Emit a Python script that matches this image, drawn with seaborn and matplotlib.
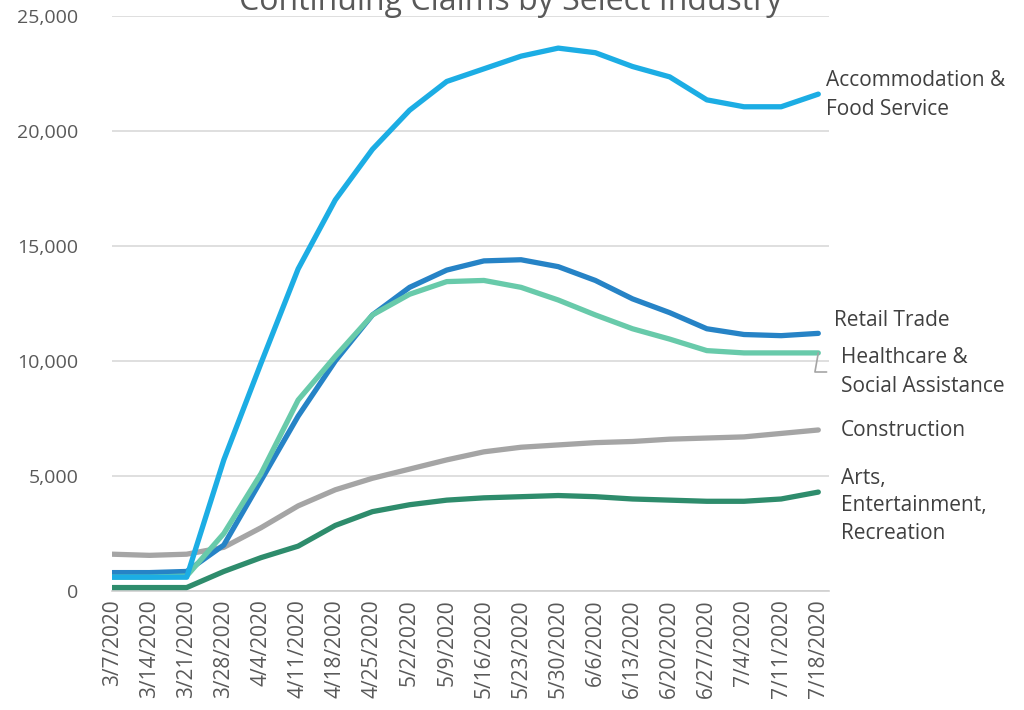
import pandas as pd
import numpy as np
import seaborn as sns
import matplotlib.pyplot as plt

# weekly dates
weeks = ['3/7/2020', '3/14/2020', '3/21/2020', '3/28/2020', '4/4/2020', '4/11/2020',
         '4/18/2020', '4/25/2020', '5/2/2020', '5/9/2020', '5/16/2020', '5/23/2020',
         '5/30/2020', '6/6/2020', '6/13/2020', '6/20/2020', '6/27/2020', '7/4/2020',
         '7/11/2020', '7/18/2020']

construction = [1600, 1550, 1600, 1900, 2750, 3700, 4400, 4900, 5300, 5700,
                6050, 6250, 6350, 6450, 6500, 6600, 6650, 6700, 6850, 7000]
arts = [150, 150, 150, 850, 1450, 1950, 2850, 3450, 3750, 3950,
        4050, 4100, 4150, 4100, 4000, 3950, 3900, 3900, 4000, 4300]
retail = [800, 800, 850, 2000, 4800, 7600, 10000, 12000, 13200, 13950,
          14350, 14400, 14100, 13500, 12700, 12100, 11400, 11150, 11100, 11200]
healthcare = [600, 600, 650, 2500, 5100, 8300, 10200, 12000, 12900, 13450,
              13500, 13200, 12650, 12000, 11400, 10950, 10450, 10350, 10350, 10350]
accommodation = [600, 600, 600, 5700, 9900, 14000, 17000, 19200, 20900, 22150,
                 22700, 23250, 23600, 23400, 22800, 22350, 21350, 21050, 21050, 21600]

series = {
    'Construction': construction,
    'Arts, Entertainment, Recreation': arts,
    'Retail Trade': retail,
    'Healthcare & Social Assistance': healthcare,
    'Accommodation & Food Service': accommodation,
}
colors = {
    'Construction': '#A5A5A5',
    'Arts, Entertainment, Recreation': '#2E8C6C',
    'Retail Trade': '#2683C6',
    'Healthcare & Social Assistance': '#68CAAA',
    'Accommodation & Food Service': '#1CADE4',
}

rows = []
for name, vals in series.items():
    for i, v in enumerate(vals):
        rows.append({'idx': i, 'week': weeks[i], 'industry': name, 'claims': v})
df = pd.DataFrame(rows)

sns.set_style('white')
plt.rcParams['font.family'] = ['Open Sans', 'DejaVu Sans']

fig = plt.figure(figsize=(10.24, 7.1), dpi=100)
ax = fig.add_axes([0.109, 0.1676, 0.701, 0.81])

sns.lineplot(data=df, x='idx', y='claims', hue='industry', palette=colors,
             hue_order=list(series.keys()), linewidth=3.8, legend=False, ax=ax,
             solid_capstyle='round', zorder=3)

ax.set_xlim(-0.02, 19.3)
ax.set_ylim(0, 25000)
ax.set_yticks(np.arange(0, 25001, 5000))
ax.set_yticklabels([f'{int(v):,}' for v in np.arange(0, 25001, 5000)])
ax.set_xticks(range(len(weeks)))
ax.set_xticklabels(weeks, rotation=90)
ax.tick_params(axis='y', labelsize=14, labelcolor='#595959', length=0, pad=24, left=False)
ax.tick_params(axis='x', labelsize=15, labelcolor='#595959', length=0, pad=6)
ax.set_xlabel('')
ax.set_ylabel('')
ax.xaxis.grid(False)
ax.yaxis.grid(True, color='#D9D9D9', linewidth=1.2, zorder=0)
sns.despine(ax=ax, left=True)
ax.spines['left'].set_color('none')
ax.spines['bottom'].set_color('#D0D0D0')
ax.spines['bottom'].set_linewidth(1.2)

# series labels on the right
lab_kw = dict(fontsize=15, color='#404040', va='center', ha='left',
              linespacing=1.5, annotation_clip=False)
last = len(weeks) - 1
ax.annotate('Accommodation &\nFood Service', xy=(last, accommodation[-1]),
            xytext=(826, 615), textcoords='figure pixels', **lab_kw)
ax.annotate('Retail Trade', xy=(last, retail[-1]),
            xytext=(834, 390), textcoords='figure pixels', **lab_kw)
ax.annotate('Healthcare &\nSocial Assistance', xy=(last, healthcare[-1]),
            xytext=(841, 338), textcoords='figure pixels',
            arrowprops=dict(arrowstyle='-', color='#A5A5A5', lw=1.2,
                            connectionstyle='angle,angleA=0,angleB=80',
                            shrinkA=8, shrinkB=0),
            **lab_kw)
ax.annotate('Construction', xy=(last, construction[-1]),
            xytext=(841, 279), textcoords='figure pixels', **lab_kw)
ax.annotate('Arts,\nEntertainment,\nRecreation', xy=(last, arts[-1]),
            xytext=(841, 204), textcoords='figure pixels',
            **dict(lab_kw, linespacing=1.4))

# title sits partly above the top edge, as in the source chart
fig.text(0.499, 1 - 10 / 710, 'Continuing Claims by Select Industry',
         ha='center', va='baseline', fontsize=23, color='#595959')

fig.savefig('out.png', dpi=100)
